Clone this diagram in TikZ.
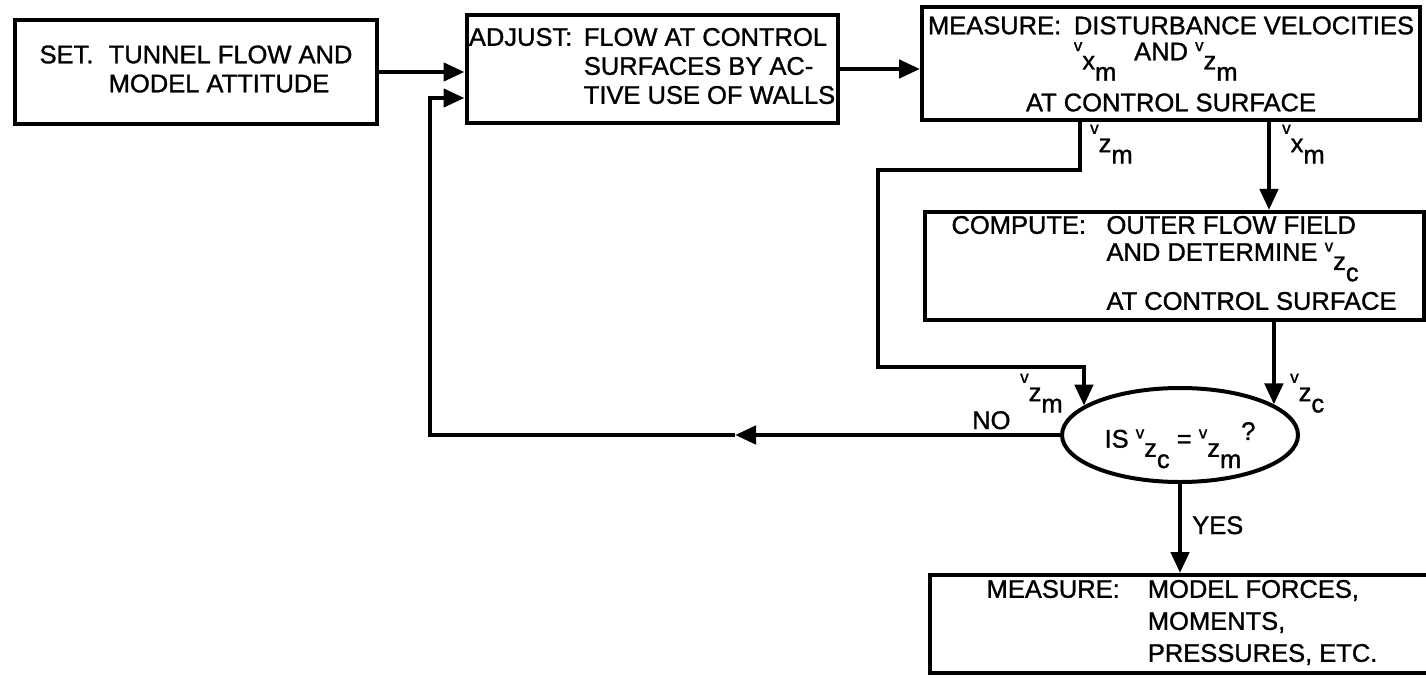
\documentclass[tikz,border=0pt]{standalone}
\usepackage{fontspec}
\setmainfont{Liberation Sans}[FakeBold=1.2]
\usetikzlibrary{arrows.meta,shapes.geometric}

% velocity with stepped subscripts
\newcommand{\vel}[2]{\raisebox{.36em}{\fontsize{17}{17}\selectfont v}\smash{\raisebox{-.36em}{#1}\raisebox{-.8em}{#2}}}

\begin{document}
\begin{tikzpicture}[
    x=1pt, y=-1pt,
    font=\fontsize{25.5}{29}\selectfont,
    box/.style={draw, rectangle, line width=4pt, inner sep=0pt, align=left},
    line/.style={line width=4.5pt},
    arrow/.style={line width=4.5pt, -{Triangle[length=21pt,width=18pt]}},
    lbl/.style={inner sep=0pt}
]
\useasboundingbox (0,0) rectangle (1426,679);
\clip (0,0) rectangle (1426,679);

\node[box, minimum width=362pt, minimum height=104pt] (set) at (196,72)
  {\begin{tabular}{@{}l@{\hspace{.6em}}l@{}}SET. & TUNNEL FLOW AND\\ & MODEL ATTITUDE\end{tabular}};
\node[box, minimum width=371pt, minimum height=108pt] (adjust) at (652,69)
  {\begin{tabular}{@{}l@{\hspace{.45em}}l@{}}ADJUST: & FLOW AT CONTROL\\ & SURFACES BY AC-\\ & TIVE USE OF WALLS\end{tabular}};
\node[box, align=center, minimum width=498pt, minimum height=113pt] (measure) at (1171,64)
  {MEASURE:\hspace{.5em}DISTURBANCE VELOCITIES\\[-3pt] \hspace*{-1.2em}\vel{x}{m}\hspace{.7em}AND \vel{z}{m}\\[22pt] AT CONTROL SURFACE};
\node[box, minimum width=499pt, minimum height=108pt] (compute) at (1174,266)
  {\begin{tabular}{@{}l@{\hspace{.8em}}l@{}}COMPUTE: & OUTER FLOW FIELD\\[-2pt] & AND DETERMINE \vel{z}{c}\\[20pt] & AT CONTROL SURFACE\end{tabular}};
\node[draw, ellipse, line width=4pt, inner sep=0pt, minimum width=236pt, minimum height=94pt] (test) at (1180,435)
  {IS \vel{z}{c} = \vel{z}{m}\raisebox{.3em}{?}};
\node[box, minimum width=504pt, minimum height=98pt] (result) at (1182,624)
  {\begin{tabular}{@{}l@{\hspace{1.1em}}l@{}}MEASURE: & MODEL FORCES,\\[3pt] & MOMENTS,\\[3pt] & PRESSURES, ETC.\end{tabular}};

% corners of the routed lines
\coordinate (zmturn) at (1080,170);
\coordinate (zmleft) at (878,170);
\coordinate (zmlow) at (878,367);
\coordinate (xmcol) at (1269,170);
\coordinate (nomid) at (735,435);
\coordinate (fbcorner) at (430,435);
\coordinate (fbtop) at (430,98);

\draw[arrow] (set.east) -- (set.east -| adjust.west);
\draw[arrow] (adjust.east) -- (adjust.east -| measure.west);
\draw[arrow] (measure.south -| zmturn) -- (zmturn) -- (zmleft) -- (zmlow) -| (test.163);
\draw[arrow] (measure.south -| xmcol) -- (compute.north -| xmcol);
\draw[arrow] (compute.south -| test.18) -- (test.18);
\draw[arrow] (test.west) -- (nomid);
\draw[arrow] (nomid) -- (fbcorner) -- (fbtop) -- (fbtop -| adjust.west);
\draw[arrow] (test.south) -- (result.north -| test.south);

\node[lbl, anchor=base west] (lzm) at (1090,143) {\vel{z}{m}};
\node[lbl, anchor=base west] (lxm) at (1282,143) {\vel{x}{m}};
\node[lbl, anchor=base west] (lzmin) at (1020,392) {\vel{z}{m}};
\node[lbl, anchor=base west] (lzc) at (1290,392) {\vel{z}{c}};
\node[lbl, anchor=base west] (lno) at (972,429) {NO};
\node[lbl, anchor=base west] (lyes) at (1192,534) {YES};
\end{tikzpicture}
\end{document}
